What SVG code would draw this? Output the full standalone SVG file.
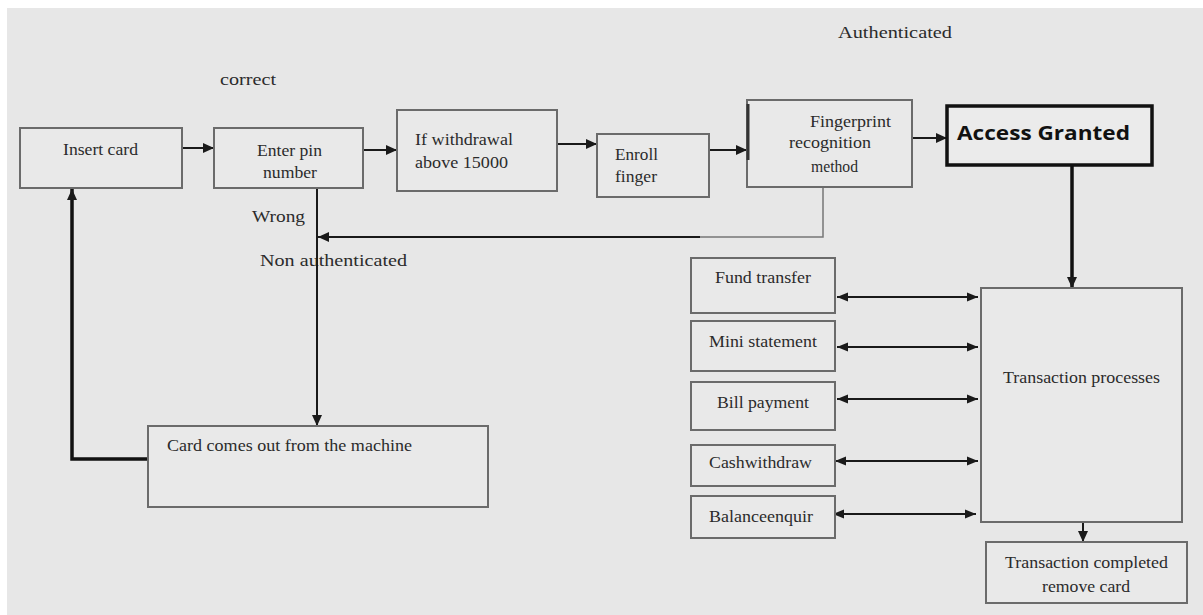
<svg xmlns="http://www.w3.org/2000/svg" width="1203" height="615" viewBox="0 0 1203 615">
<defs>
<marker id="ah" markerUnits="userSpaceOnUse" markerWidth="12" markerHeight="12" refX="11" refY="6" orient="auto-start-reverse">
<path d="M0,1 L11,6 L0,11 Z" fill="#1a1a1a"/>
</marker>
<marker id="ahs" markerUnits="userSpaceOnUse" markerWidth="12" markerHeight="12" refX="11" refY="6" orient="auto-start-reverse">
<path d="M0,1.5 L11,6 L0,10.5 Z" fill="#1a1a1a"/>
</marker>
</defs>
<style>
.bg{fill:#e7e7e7}
.box{fill:#e9e9e9;stroke:#6b6b6b;stroke-width:2}
.tx{font-family:"Liberation Serif","Times New Roman",serif;font-size:17px;fill:#2b2b2b}
.big{font-family:"Open Sans","Noto Sans","Liberation Sans",sans-serif;font-size:20px;font-weight:bold;fill:#111}
.ln{fill:none;stroke:#1a1a1a;stroke-width:2}
.thick{fill:none;stroke:#111;stroke-width:3.5}
.thin{fill:none;stroke:#777;stroke-width:1.5}
</style>
<rect x="0" y="0" width="1203" height="615" fill="#ffffff"/>
<rect class="bg" x="7" y="8" width="1196" height="607"/>

<g id="labels">
<text class="tx" x="220" y="85" textLength="56" lengthAdjust="spacingAndGlyphs">correct</text>
<text class="tx" x="252" y="222" textLength="53" lengthAdjust="spacingAndGlyphs">Wrong</text>
<text class="tx" x="260" y="266" textLength="147" lengthAdjust="spacingAndGlyphs">Non authenticated</text>
<text class="tx" x="838" y="38" textLength="114" lengthAdjust="spacingAndGlyphs">Authenticated</text>
</g>

<g id="connectors">
<line class="ln" x1="182" y1="148" x2="214" y2="148" marker-end="url(#ah)"/>
<line class="ln" x1="363" y1="150" x2="397" y2="150" marker-end="url(#ah)"/>
<line class="ln" x1="557" y1="144" x2="597" y2="144" marker-end="url(#ah)"/>
<line class="ln" x1="705" y1="150" x2="747" y2="150" marker-end="url(#ah)"/>
<line class="ln" x1="908" y1="138" x2="947" y2="138" marker-end="url(#ah)"/>
<line class="thick" x1="1072" y1="165" x2="1072" y2="288" marker-end="url(#ah)"/>
<polyline class="thin" points="823,187 823,237 700,237"/>
<line class="ln" x1="700" y1="237" x2="318" y2="237" marker-end="url(#ah)"/>
<line class="ln" x1="317" y1="188" x2="317" y2="426" marker-end="url(#ah)"/>
<polyline class="thick" points="148,459 72,459 72,189" marker-end="url(#ah)"/>
<line class="ln" x1="837" y1="297" x2="978" y2="297" marker-start="url(#ahs)" marker-end="url(#ahs)"/>
<line class="ln" x1="837" y1="347" x2="978" y2="347" marker-start="url(#ahs)" marker-end="url(#ahs)"/>
<line class="ln" x1="837" y1="399" x2="978" y2="399" marker-start="url(#ahs)" marker-end="url(#ahs)"/>
<line class="ln" x1="835" y1="461" x2="978" y2="461" marker-start="url(#ahs)" marker-end="url(#ahs)"/>
<line class="ln" x1="833" y1="514" x2="976" y2="514" marker-start="url(#ahs)" marker-end="url(#ahs)"/>
<line class="ln" x1="1083" y1="518" x2="1083" y2="542" marker-end="url(#ah)"/>
</g>

<g id="insert-card">
<rect class="box" x="20" y="128" width="162" height="60"/>
<text class="tx" x="63" y="155" textLength="75" lengthAdjust="spacingAndGlyphs">Insert card</text>
</g>
<g id="enter-pin">
<rect class="box" x="214" y="128" width="149" height="60"/>
<text class="tx" x="257" y="156" textLength="65" lengthAdjust="spacingAndGlyphs">Enter pin</text>
<text class="tx" x="263" y="178" textLength="54" lengthAdjust="spacingAndGlyphs">number</text>
</g>
<g id="withdrawal">
<rect class="box" x="397" y="110" width="160" height="81"/>
<text class="tx" x="415" y="145" textLength="98" lengthAdjust="spacingAndGlyphs">If withdrawal</text>
<text class="tx" x="415" y="168" textLength="93" lengthAdjust="spacingAndGlyphs">above 15000</text>
</g>
<g id="enroll-finger">
<rect class="box" x="597" y="134" width="112" height="63"/>
<text class="tx" x="615" y="160" textLength="43" lengthAdjust="spacingAndGlyphs">Enroll</text>
<text class="tx" x="615" y="182" textLength="42" lengthAdjust="spacingAndGlyphs">finger</text>
</g>
<g id="fingerprint">
<rect class="box" x="747" y="100" width="165" height="87"/>
<line x1="748" y1="104" x2="748" y2="160" stroke="#333" stroke-width="3"/>
<text class="tx" x="810" y="127" textLength="81" lengthAdjust="spacingAndGlyphs">Fingerprint</text>
<text class="tx" x="789" y="148" textLength="82" lengthAdjust="spacingAndGlyphs">recognition</text>
<text class="tx" x="811" y="172" textLength="47" lengthAdjust="spacingAndGlyphs">method</text>
</g>
<g id="access-granted">
<rect x="947" y="106" width="205" height="59" fill="#ebebeb" stroke="#111" stroke-width="3.5"/>
<text class="big" x="957" y="140" textLength="173" lengthAdjust="spacingAndGlyphs">Access Granted</text>
</g>
<g id="card-out">
<rect class="box" x="148" y="426" width="340" height="81"/>
<text class="tx" x="167" y="451" textLength="245" lengthAdjust="spacingAndGlyphs">Card comes out from the machine</text>
</g>
<g id="fund-transfer">
<rect class="box" x="691" y="258" width="144" height="55"/>
<text class="tx" x="715" y="283" textLength="96" lengthAdjust="spacingAndGlyphs">Fund transfer</text>
</g>
<g id="mini-statement">
<rect class="box" x="691" y="321" width="144" height="50"/>
<text class="tx" x="709" y="347" textLength="108" lengthAdjust="spacingAndGlyphs">Mini statement</text>
</g>
<g id="bill-payment">
<rect class="box" x="691" y="382" width="144" height="48"/>
<text class="tx" x="717" y="408" textLength="92" lengthAdjust="spacingAndGlyphs">Bill payment</text>
</g>
<g id="cash-withdraw">
<rect class="box" x="691" y="445" width="144" height="41"/>
<text class="tx" x="709" y="468" textLength="103" lengthAdjust="spacingAndGlyphs">Cashwithdraw</text>
</g>
<g id="balance-enquiry">
<rect class="box" x="691" y="496" width="144" height="42"/>
<text class="tx" x="709" y="522" textLength="104" lengthAdjust="spacingAndGlyphs">Balanceenquir</text>
</g>
<g id="transaction-processes">
<rect class="box" x="981" y="288" width="201" height="234"/>
<text class="tx" x="1003" y="383" textLength="157" lengthAdjust="spacingAndGlyphs">Transaction processes</text>
</g>
<g id="transaction-completed">
<rect class="box" x="986" y="542" width="201" height="61"/>
<text class="tx" x="1005" y="568" textLength="163" lengthAdjust="spacingAndGlyphs">Transaction completed</text>
<text class="tx" x="1042" y="592" textLength="88" lengthAdjust="spacingAndGlyphs">remove card</text>
</g>
</svg>
